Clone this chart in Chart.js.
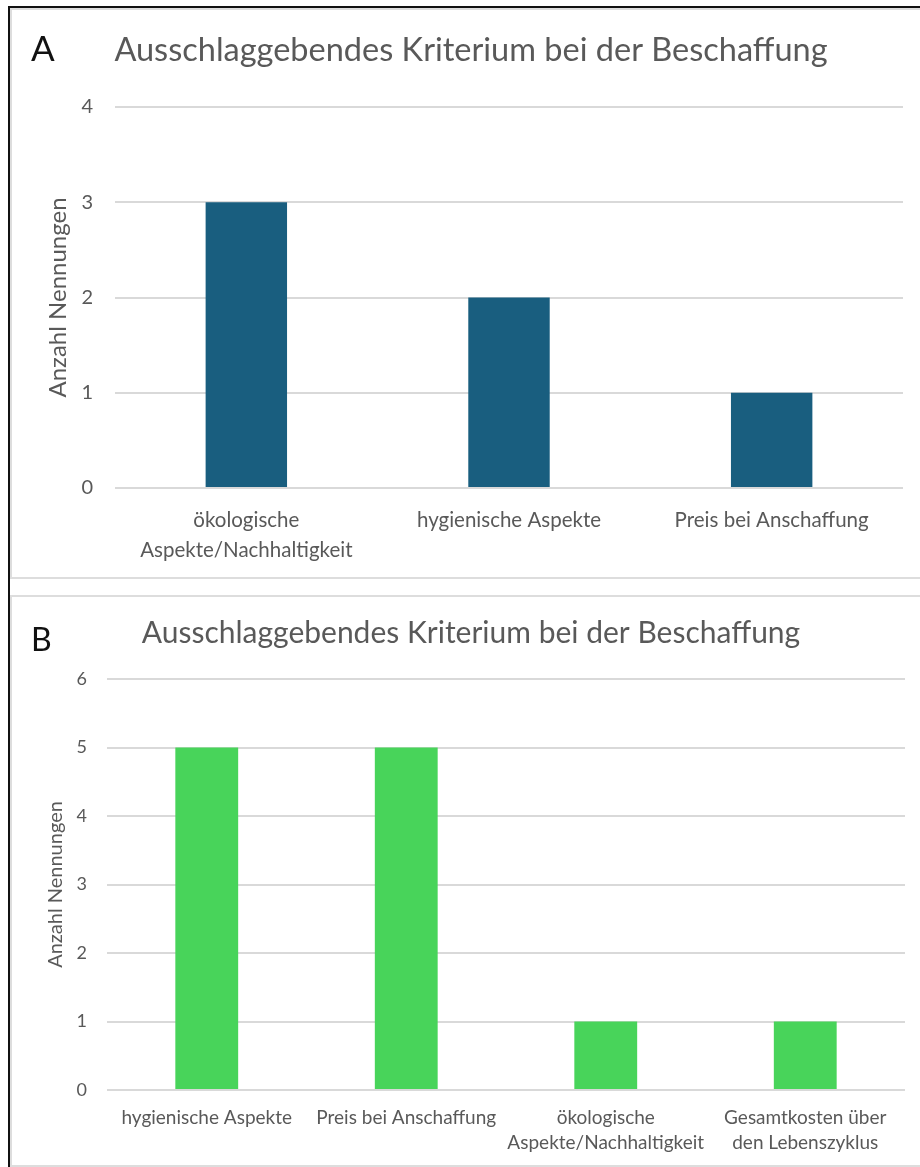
<!DOCTYPE html>
<html lang="de">
<head>
<meta charset="utf-8">
<title>Ausschlaggebendes Kriterium bei der Beschaffung</title>
<script src="https://cdn.jsdelivr.net/npm/chart.js@4.4.1/dist/chart.umd.min.js"></script>
<style>
  html, body { margin: 0; padding: 0; background: #ffffff; }
  body { width: 920px; height: 1167px; position: relative; overflow: hidden; font-family: Lato, "Open Sans", sans-serif; }
  .frame-top { position: absolute; left: 8px; top: 6px; width: 920px; height: 2px; background: #111; }
  .frame-left { position: absolute; left: 8px; top: 6px; width: 2px; height: 1170px; background: #111; }
  .panel { position: absolute; left: 10px; width: 930px; border: 2px solid #dddddd; box-sizing: border-box; }
  #panelA { top: 8px; height: 571px; }
  #panelB { top: 595px; height: 572px; }
  .letter { position: absolute; color: #111; font-family: Lato, sans-serif; font-weight: 400; line-height: 1; }
  #letterA { left: 31px; top: 30px; font-size: 35px; }
  #letterB { left: 31px; top: 623px; font-size: 32px; }
  canvas { position: absolute; left: 10px; }
  #chartA { top: 9px; }
  #chartB { top: 597px; }
</style>
</head>
<body>
<div class="frame-top"></div>
<div class="frame-left"></div>
<div class="panel" id="panelA"></div>
<div class="panel" id="panelB"></div>
<canvas id="chartA" width="910" height="568"></canvas>
<canvas id="chartB" width="910" height="568"></canvas>
<div class="letter" id="letterA">A</div>
<div class="letter" id="letterB">B</div>
<script>
// Chart A
const titleA = "Ausschlaggebendes Kriterium bei der Beschaffung";
const categoriesA = [["ökologische", "Aspekte/Nachhaltigkeit"], "hygienische Aspekte", "Preis bei Anschaffung"];
const valuesA = [3, 2, 1];
const yTicksA = [0, 1, 2, 3, 4];

// Chart B
const titleB = "Ausschlaggebendes Kriterium bei der Beschaffung";
const categoriesB = ["hygienische Aspekte", "Preis bei Anschaffung", ["ökologische", "Aspekte/Nachhaltigkeit"], ["Gesamtkosten über", "den Lebenszyklus"]];
const valuesB = [5, 5, 1, 1];
const yTicksB = [0, 1, 2, 3, 4, 5, 6];

const yAxisTitle = "Anzahl Nennungen";

const TEXT = "#595959";
const GRID = "#d9d9d9";
const FONT = "Lato, 'Open Sans', sans-serif";

function makeChart(id, cfg) {
  return new Chart(document.getElementById(id), {
    type: "bar",
    data: {
      labels: cfg.labels,
      datasets: [{
        data: cfg.values,
        backgroundColor: cfg.color,
        borderWidth: 0,
        barPercentage: cfg.barPct,
        categoryPercentage: 1
      }]
    },
    options: {
      responsive: false,
      animation: false,
      devicePixelRatio: 1,
      layout: { padding: cfg.padding },
      plugins: {
        legend: { display: false },
        tooltip: { enabled: false },
        title: {
          display: true,
          text: cfg.title,
          color: TEXT,
          font: { family: FONT, size: cfg.titleSize, weight: "normal", lineHeight: 1.2 },
          padding: cfg.titlePadding
        }
      },
      scales: {
        x: {
          grid: { display: false },
          border: { display: false },
          ticks: {
            color: TEXT,
            autoSkip: false,
            maxRotation: 0,
            padding: cfg.xPad,
            font: { family: FONT, size: cfg.xSize, lineHeight: cfg.xLine }
          },
          afterFit: s => { s.height = cfg.xHeight; }
        },
        y: {
          min: cfg.yTicks[0],
          max: cfg.yTicks[cfg.yTicks.length - 1],
          afterBuildTicks: s => { s.ticks = cfg.yTicks.map(v => ({ value: v })); },
          afterFit: s => { s.width = cfg.yWidth; },
          grid: { color: GRID, lineWidth: 2, drawTicks: false },
          border: { display: false },
          ticks: {
            color: TEXT,
            padding: cfg.yPad,
            font: { family: FONT, size: cfg.ySize }
          },
          title: {
            display: true,
            text: yAxisTitle,
            color: TEXT,
            padding: { top: cfg.yTitlePad, bottom: 0 },
            font: { family: FONT, size: cfg.yTitleSize, lineHeight: 1.2 }
          }
        }
      }
    }
  });
}

makeChart("chartA", {
  labels: categoriesA, values: valuesA, yTicks: yTicksA, title: titleA,
  color: "#195e7f", barPct: 0.31,
  padding: { left: 29, right: 17, top: 0, bottom: 0 },
  titleSize: 32.5, titlePadding: { top: 22, bottom: 37 },
  xSize: 20.5, xLine: 1.46, xPad: 9, xHeight: 89,
  ySize: 20, yPad: 22, yWidth: 76,
  yTitleSize: 24, yTitlePad: 5
});

makeChart("chartB", {
  labels: categoriesB, values: valuesB, yTicks: yTicksB, title: titleB,
  color: "#48d45a", barPct: 0.315,
  padding: { left: 27, right: 15, top: 0, bottom: 0 },
  titleSize: 30, titlePadding: { top: 18, bottom: 28 },
  xSize: 19, xLine: 1.32, xPad: 7, xHeight: 75,
  ySize: 18, yPad: 20, yWidth: 70,
  yTitleSize: 20, yTitlePad: 7
});
</script>
</body>
</html>
